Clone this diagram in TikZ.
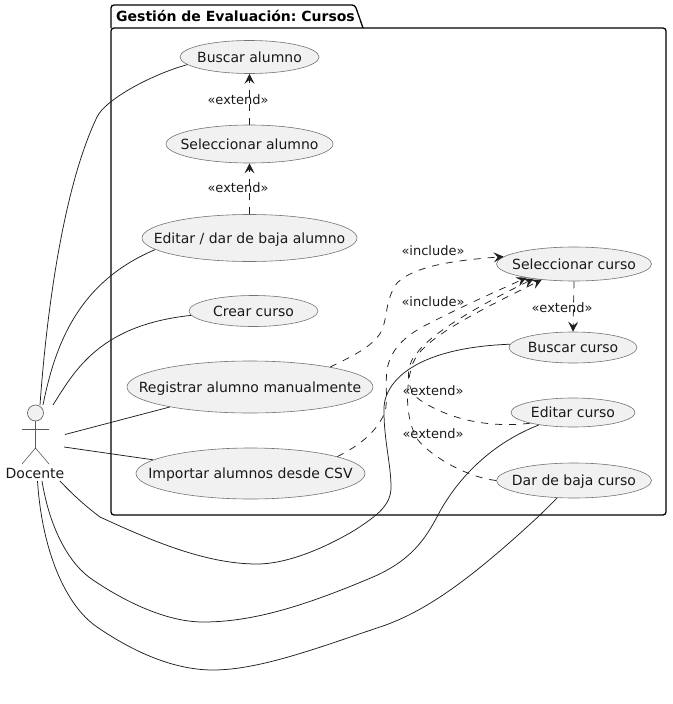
\documentclass[tikz,border=0pt]{standalone}
\usepackage{fontspec}
\setmainfont{DejaVu Sans}
\frenchspacing
\usetikzlibrary{shapes.geometric,arrows.meta}
\newcommand\uctext[1]{\smash{\raisebox{-5pt}{\makebox[0pt]{#1}}}}
\tikzset{
  x=1pt,y=-1pt,
  uc/.style={ellipse,draw=black!55,line width=.6pt,fill=black!5.5,inner sep=0pt,text=black!90,font=\fontsize{14}{16}\selectfont},
  lnk/.style={line width=.75pt,draw=black!88},
  dep/.style={line width=.75pt,draw=black!88,dash pattern=on 7pt off 7pt,-{Stealth[length=10pt,width=10pt,inset=4pt]}},
  stick/.style={line width=.6pt,draw=black!65},
  lbl/.style={font=\fontsize{13}{15}\selectfont,text=black!90,inner sep=0pt},
  pkg/.style={line width=1.3pt,draw=black,rounded corners=3pt}
}
\begin{document}
\begin{tikzpicture}
\useasboundingbox (0,0) rectangle (672,704);
% package
\draw[pkg] (111,28) -- (111,5) -- (355,5) -- (363,28);
\draw[pkg] (111,28) rectangle (666,515);
\node[anchor=base west,inner sep=0pt,font=\fontsize{14}{16}\selectfont\bfseries] (title) at (116,21.5) {Gestión de Evaluación: Cursos};
% use cases
\node[uc,minimum width=139pt,minimum height=33pt] (ba) at (249.5,57) {\uctext{Buscar alumno}};
\node[uc,minimum width=167pt,minimum height=38pt] (sa) at (249.5,144) {\uctext{Seleccionar alumno}};
\node[uc,minimum width=215pt,minimum height=47pt] (ea) at (249.5,238) {\uctext{Editar / dar de baja alumno}};
\node[uc,minimum width=129pt,minimum height=31pt] (cc) at (253.5,311) {\uctext{Crear curso}};
\node[uc,minimum width=246pt,minimum height=52pt] (ra) at (250,387) {\uctext{Registrar alumno manualmente}};
\node[uc,minimum width=229pt,minimum height=51pt] (ia) at (250.5,473.5) {\uctext{Importar alumnos desde CSV}};
\node[uc,minimum width=155pt,minimum height=34pt] (sc) at (574,264) {\uctext{Seleccionar curso}};
\node[uc,minimum width=128pt,minimum height=31pt] (bc) at (573,347.5) {\uctext{Buscar curso}};
\node[uc,minimum width=124pt,minimum height=29pt] (ec) at (573,412.5) {\uctext{Editar curso}};
\node[uc,minimum width=155pt,minimum height=35pt] (dc) at (574,480.5) {\uctext{Dar de baja curso}};
% actor
\node[circle,draw=black!65,line width=.6pt,fill=black!5.5,minimum size=16pt,inner sep=0pt] (head) at (35.5,413) {};
\coordinate (hip) at (35.5,448);
\coordinate (arml) at (22,429);
\coordinate (armr) at (49,429);
\coordinate (legl) at (22,464);
\coordinate (legr) at (49,464);
\draw[stick] (head.south) -- (hip);
\draw[stick] (arml) -- (armr);
\draw[stick] (legl) -- (hip) -- (legr);
\node[font=\fontsize{14}{16}\selectfont,inner sep=0pt,text=black!90] (doc) at (35,473) {Docente};
% free ends at the actor
\coordinate (p1) at (40,405);
\coordinate (p2) at (43,405);
\coordinate (p3) at (53,405);
\coordinate (p4) at (65,434.5);
\coordinate (p5) at (64,447);
\coordinate (p6) at (60,481);
\coordinate (p7) at (42,481);
\coordinate (p8) at (37.5,481);
% solid links
\draw[lnk] (p1) .. controls (46,320) and (62,190) .. (97,117) .. controls (105,100) and (150,75) .. (ba.187);
\draw[lnk] (p2) .. controls (55,345) and (78,282) .. (ea.187);
\draw[lnk] (p3) .. controls (75,370) and (100,325) .. (cc.184);
\draw[lnk] (p4) -- (ra.194);
\draw[lnk] (p5) -- (ia.172);
\draw[lnk] (p6) .. controls (75,497) and (88,508) .. (100,517) .. controls (150,540) and (205,564) .. (257,564)
  .. controls (290,564) and (330,545) .. (355,530) .. controls (378,515) and (391,505) .. (391,487)
  .. controls (391,465) and (384,440) .. (384,412) .. controls (382,385) and (410,348) .. (bc.177);
\draw[lnk] (p7) .. controls (50,530) and (70,565) .. (93,580) .. controls (130,605) and (170,622) .. (203,622)
  .. controls (250,622) and (300,608) .. (373,577) .. controls (410,561) and (425,540) .. (438,515)
  .. controls (450,492) and (480,448) .. (ec.200);
\draw[lnk] (p8) .. controls (42,550) and (65,605) .. (97,627) .. controls (135,653) and (175,670) .. (213,670)
  .. controls (260,670) and (320,647) .. (380,627) .. controls (425,612) and (470,580) .. (540,515) -- (dc.226);
% dashed links
\draw[dep] (ra.14) .. controls (355,355) and (375,345) .. (382,330) .. controls (388,315) and (385,300) .. (397,283)
  .. controls (415,265) and (460,260) .. (sc.174);
\draw[dep] (ia.11) .. controls (350,450) and (375,437) .. (385,412) .. controls (388,400) and (385,385) .. (387,370)
  .. controls (390,350) and (405,335) .. (430,323) .. controls (465,305) and (495,292) .. (sc.196);
\draw[dep] (ec.194) .. controls (490,428) and (450,420) .. (420,400) .. controls (405,390) and (405,365) .. (417,353)
  .. controls (430,335) and (470,310) .. (sc.200);
\draw[dep] (dc.180) .. controls (465,477) and (430,455) .. (418,440) .. controls (405,420) and (405,385) .. (413,363)
  .. controls (422,340) and (470,315) .. (sc.206);
\draw[dep] (sc.south) -- (bc.north);
\draw[dep] (sa.north) -- (ba.south);
\draw[dep] (ea.north) -- (sa.south);
% labels
\node[lbl] (l1) at (238,100) {«extend»};
\node[lbl] (l2) at (238,188) {«extend»};
\node[lbl] (l3) at (433,250.5) {«include»};
\node[lbl] (l4) at (433,301.5) {«include»};
\node[lbl] (l5) at (562,307.5) {«extend»};
\node[lbl] (l6) at (433,390.5) {«extend»};
\node[lbl] (l7) at (433,434) {«extend»};
\end{tikzpicture}
\end{document}
